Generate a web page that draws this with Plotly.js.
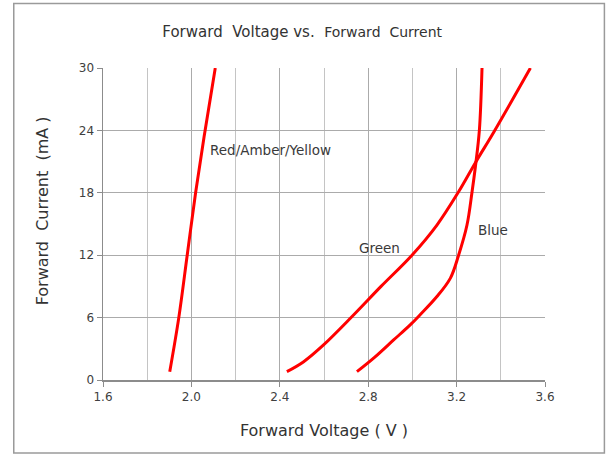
<!DOCTYPE html>
<html>
<head>
<meta charset="utf-8">
<script src="https://cdn.plot.ly/plotly-3.0.1.min.js"></script>
<style>html,body{margin:0;padding:0;background:#fff;}#chart{width:608px;height:456px;}</style>
</head>
<body>
<div id="chart"></div>
<script>
// Red/Amber/Yellow LED
const redVoltage = [1.902, 1.943, 1.981, 2.019, 2.062, 2.108];
const redCurrent = [0.8, 6, 12, 18, 24, 30];
// Green LED
const greenVoltage = [2.432, 2.508, 2.598, 2.727, 2.858, 2.998, 3.111, 3.209, 3.285, 3.370, 3.534];
const greenCurrent = [0.8, 1.76, 3.37, 6.1, 9.0, 12.0, 14.9, 18.1, 20.9, 23.9, 30];
// Blue LED
const blueVoltage = [2.749, 2.83, 2.915, 2.99, 3.036, 3.11, 3.172, 3.209, 3.247, 3.270, 3.285, 3.303, 3.315];
const blueCurrent = [0.8, 2.2, 3.85, 5.3, 6.3, 8.0, 9.8, 12.0, 14.9, 18.1, 20.5, 24, 30];

const xTicks = [1.6, 2.0, 2.4, 2.8, 3.2, 3.6];
const xTickLabels = ['1.6', '2.0', '2.4', '2.8', '3.2', '3.6'];
const yTicks = [0, 6, 12, 18, 24, 30];

const labelNames = ['Red/Amber/Yellow', 'Green', 'Blue'];
const labelV = [2.077, 2.751, 3.29];
const labelI = [22.1, 12.7, 14.4];

const lineStyle = {color: '#ff0000', width: 3, shape: 'spline', smoothing: 1};
const traces = [
  {x: redVoltage, y: redCurrent, mode: 'lines', line: lineStyle, hoverinfo: 'none'},
  {x: greenVoltage, y: greenCurrent, mode: 'lines', line: lineStyle, hoverinfo: 'none'},
  {x: blueVoltage, y: blueCurrent, mode: 'lines', line: lineStyle, hoverinfo: 'none'}
];

const tickFont = {family: 'DejaVu Sans', size: 12, color: '#404040'};
const titleFont = {family: 'DejaVu Sans', size: 16, color: '#333333'};

const layout = {
  width: 608, height: 456,
  margin: {l: 103, r: 63, t: 68, b: 76},
  paper_bgcolor: '#ffffff', plot_bgcolor: '#ffffff',
  showlegend: false,
  title: {text: 'Forward  Voltage vs.  <span style="font-size:14px">Forward  Current</span>',
          x: 0.497, xanchor: 'center', y: 0.93, yanchor: 'middle',
          font: {family: 'DejaVu Sans', size: 15, color: '#333333'}},
  xaxis: {
    range: [1.6, 3.6], tickvals: xTicks, ticktext: xTickLabels,
    showgrid: true, gridcolor: '#ababab', gridwidth: 1,
    minor: {dtick: 0.2, showgrid: true, gridcolor: '#c4c4c4', gridwidth: 1},
    showline: true, linecolor: '#8c8c8c', linewidth: 1.5, mirror: false,
    ticks: 'outside', ticklen: 5, tickcolor: '#8c8c8c', zeroline: false,
    tickfont: tickFont,
    title: {text: 'Forward Voltage ( V )', font: titleFont, standoff: 22}
  },
  yaxis: {
    range: [0, 30], tickvals: yTicks,
    showgrid: true, gridcolor: '#ababab', gridwidth: 1,
    showline: true, linecolor: '#8c8c8c', linewidth: 1.5,
    ticks: 'outside', ticklen: 5, tickcolor: '#8c8c8c', zeroline: false,
    tickfont: tickFont
  },
  annotations: labelNames.map((t, k) => ({
    x: labelV[k], y: labelI[k], xref: 'x', yref: 'y', text: t, showarrow: false,
    xanchor: 'left', yanchor: 'middle',
    font: {family: 'DejaVu Sans', size: 13.5, color: '#3a3a3a'}
  })).concat([{
    x: -0.137, y: 0.542, xref: 'paper', yref: 'paper', text: 'Forward  Current  (mA )',
    textangle: -90, showarrow: false, xanchor: 'center', yanchor: 'middle', font: titleFont
  }]),
  shapes: [
    {type: 'rect', xref: 'paper', yref: 'paper', x0: -0.2019, x1: 1.1344, y0: -0.234, y1: 1.2067,
     line: {color: '#9a9a9a', width: 1.5}, fillcolor: 'rgba(0,0,0,0)', layer: 'below'}
  ]
};

Plotly.newPlot('chart', traces, layout, {staticPlot: true, displayModeBar: false});
</script>
</body>
</html>
